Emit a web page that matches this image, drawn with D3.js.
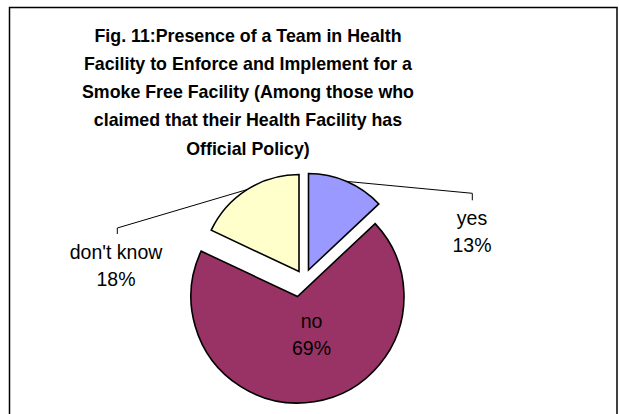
<!DOCTYPE html>
<html><head><meta charset="utf-8">
<script src="https://cdn.jsdelivr.net/npm/d3@7"></script>
<style>body{margin:0;background:#fff}svg{display:block}text{font-family:Arial,"Liberation Sans",sans-serif}</style>
</head><body><svg id="c" width="619" height="414"></svg>
<script>
// ---- data ----
const categories = ["yes", "no", "don't know"];
const values = [13, 69, 18];
const colors = ["#9999FF", "#993366", "#FFFFCC"];
const titleLines = ["Fig. 11:Presence of a Team in Health", "Facility to Enforce and Implement for a", "Smoke Free Facility (Among those who", "claimed that their Health Facility has", "Official Policy)"];

// ---- layout (positions/styles only) ----
const base = {x: 297.5, y: 296.5};
const sliceLayout = [
  {dx: 11, dy: -26.5, r: 96.5, label: {x: 472, y: 225}, leader: {x: 472.3, y: 193.3, drop: 7}},
  {dx: 0, dy: 0, r: 106.5, label: {x: 311.5, y: 328}},
  {dx: 1.5, dy: -25, r: 97, label: {x: 116, y: 259}, leader: {x: 117.3, y: 228, drop: 6}}
];

const svg = d3.select("#c");
svg.append("rect").attr("x", 9.5).attr("y", 7.5).attr("width", 607.5).attr("height", 430)
  .attr("fill", "#fff").attr("stroke", "#000").attr("stroke-width", 1.5);

svg.append("g").selectAll("text").data(titleLines).join("text")
  .attr("x", 248).attr("y", (d, i) => 41.5 + i * 28.3)
  .attr("text-anchor", "middle").attr("font-weight", "bold").attr("font-size", 17.8)
  .attr("fill", "#000").text(d => d);

const pie = d3.pie().sort(null).value(d => d)(values);

pie.forEach((p, i) => {
  const L = sliceLayout[i];
  const cx = base.x + L.dx, cy = base.y + L.dy;
  const arc = d3.arc().innerRadius(0).outerRadius(L.r);
  svg.append("path").attr("transform", `translate(${cx},${cy})`)
    .attr("d", arc(p)).attr("fill", colors[i]).attr("stroke", "#000")
    .attr("stroke-width", 1.6).attr("stroke-linejoin", "miter");
  if (L.leader) {
    const mid = (p.startAngle + p.endAngle) / 2;
    const sx = cx + L.r * Math.sin(mid), sy = cy - L.r * Math.cos(mid);
    svg.append("path").attr("d", `M${sx},${sy}L${L.leader.x},${L.leader.y}L${L.leader.x},${L.leader.y + L.leader.drop}`)
      .attr("fill", "none").attr("stroke", "#000").attr("stroke-width", 1);
  }
  const t = svg.append("text").attr("text-anchor", "middle").attr("font-size", 19.5).attr("fill", "#000");
  t.append("tspan").attr("x", L.label.x).attr("y", L.label.y).text(categories[i]);
  t.append("tspan").attr("x", L.label.x).attr("y", L.label.y + 26.5).text(values[i] + "%");
});
</script></body></html>
